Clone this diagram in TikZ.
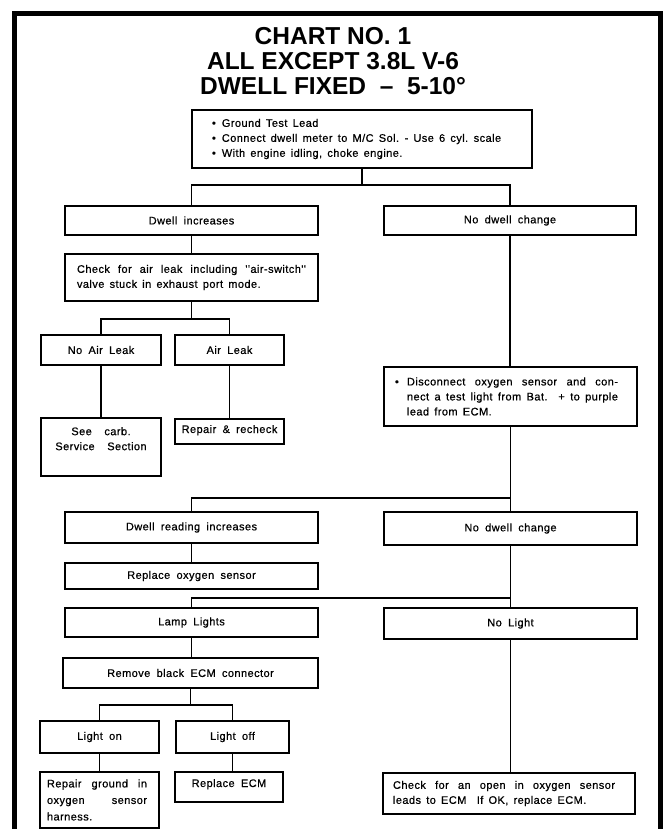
\documentclass[tikz,border=0pt]{standalone}
\usepackage{fontspec}
\newfontfamily\boxfont{Liberation Sans}[LetterSpace=4,WordSpace=1.8,FakeBold=0.6]
\newfontfamily\headfont{Liberation Sans}
% a line whose word spaces stretch to fill the given width
\newcommand\spreadto[2]{\leavevmode\hbox to #1{\spaceskip=3pt plus 1fil\relax #2}}
% a line set with the wide word spacing of the chart
\newcommand\wideline[1]{\leavevmode\hbox{\spaceskip=5.2pt\relax #1}}
% bullet followed by its gap
\newcommand\bul{\textbullet\hspace{6pt}}
\begin{document}
\begin{tikzpicture}[x=1pt,y=-1pt,
  box/.style={draw, line width=1.4pt, inner sep=0pt, outer sep=0pt, anchor=north west,
    font=\boxfont\fontsize{11}{15}\selectfont},
  sz/.style 2 args={minimum width=#1pt, minimum height=#2pt},
  wire/.style={line width=1.4pt},
  frame/.style={line width=5pt},
  heading/.style={font=\headfont\bfseries\fontsize{24.5}{26}\selectfont, anchor=base, inner sep=0pt},
  boxtext/.style={font=\boxfont\fontsize{11}{15}\selectfont, inner sep=0pt, align=center}]
\useasboundingbox (0,0) rectangle (666,829);

% outer frame, open at the bottom
\draw[frame] (14,829) -- (14,14) -- (660,14) -- (660,829);

% heading
\node[heading] (h1) at (333,45) {CHART NO. 1};
\node[heading] (h2) at (333,70) {ALL EXCEPT 3.8L V-6};
\node[heading] (h3) at (333,95) {DWELL FIXED \ – \ 5-10°};

% boxes
\node[box, sz={340}{58}, align=left, text width=300pt] (top) at (192,110)
  {\wideline{\bul Ground Test Lead}\\
   \wideline{\bul Connect dwell meter to M/C Sol. - Use 6 cyl. scale}\\
   \wideline{\bul With engine idling, choke engine.}};
\node[box, sz={253}{29}] (di) at (65,206) {Dwell increases};
\node[box, sz={252}{29}] (ndc) at (384,206) {No dwell change};
\node[box, sz={253}{47}, align=left, text width=229pt] (chk) at (65,254)
  {\spreadto{229pt}{Check for air leak including ''air-switch''}\\
   \wideline{valve stuck in exhaust port mode.}};
\node[box, sz={120}{30}] (nal) at (41,335) {No Air Leak};
\node[box, sz={109}{30}] (al) at (175,335) {Air Leak};
\node[box, sz={120}{58}] (sc) at (41,418) {};
\node[boxtext, anchor=north] (sctext) at ([yshift=-9pt]sc.north)
  {See\ \ carb.\\Service\ \ Section};
\node[box, sz={109}{25}, text height=14pt, text depth=11pt] (rr) at (175,419) {Repair \& recheck};
\node[box, sz={253}{59}, align=left, text width=231pt] (disc) at (384,367)
  {\makebox[12pt][l]{\textbullet}\spreadto{211pt}{Disconnect oxygen sensor and con-}\\
   \hspace*{12pt}\spreadto{211pt}{nect a test light from Bat.\ \ + to purple}\\
   \hspace*{12pt}\wideline{lead from ECM.}};
\node[box, sz={253}{31}] (dri) at (65,512) {Dwell reading increases};
\node[box, sz={253}{33}] (ndc2) at (384,512) {No dwell change};
\node[box, sz={253}{26}] (ros) at (65,563) {Replace oxygen sensor};
\node[box, sz={253}{29}] (ll) at (65,608) {Lamp Lights};
\node[box, sz={253}{31}] (nl) at (384,608) {No Light};
\node[box, sz={255}{30}] (rem) at (63,658) {Remove black ECM connector};
\node[box, sz={119}{32}] (lon) at (40,721) {Light on};
\node[box, sz={113}{32}] (loff) at (176,721) {Light off};
\node[box, sz={119}{56}, align=left, text width=105pt] (rg) at (40,772)
  {\spreadto{100pt}{Repair ground in}\\[1.5pt]
   \spreadto{100pt}{oxygen sensor}\\[1.5pt]
   harness.};
\node[box, sz={108}{30}, text height=15pt, text depth=15pt] (recm) at (175,772) {Replace ECM};
\node[box, sz={252}{41}, align=left, text width=232pt] (cko) at (383,773)
  {\spreadto{222pt}{Check for an open in oxygen sensor}\\
   \wideline{leads to ECM\ \ If OK, replace ECM.}};

% junction points of the forks
\coordinate (j1) at ([yshift=-17pt]top.south);
\coordinate (j2) at ([yshift=-18pt]chk.south);
\coordinate (j3) at ([yshift=14pt]ndc2.north);
\coordinate (j4) at ([yshift=10pt]nl.north);
\coordinate (j5) at ([yshift=-17pt]rem.south);

% connectors
\draw[wire] (top.south) -- (j1);
\draw[wire] (di.north) |- (j1) -| (ndc.north);
\draw[wire] (di.south) -- (di.south |- chk.north);
\draw[wire] (chk.south) -- (j2);
\draw[wire] (nal.north) |- (j2) -| (al.north);
\draw[wire] (nal.south) -- (nal.south |- sc.north);
\draw[wire] (al.south) -- (al.south |- rr.north);
\draw[wire] (ndc.south) -- (ndc.south |- disc.north);
\draw[wire] (disc.south) -- (disc.south |- ndc2.north);
\draw[wire] (dri.north) |- (j3);
\draw[wire] (dri.south) -- (dri.south |- ros.north);
\draw[wire] (ndc2.south) -- (ndc2.south |- nl.north);
\draw[wire] (ll.north) |- (j4);
\draw[wire] (ll.south) -- (ll.south |- rem.north);
\draw[wire] (rem.south) -- (j5);
\draw[wire] (lon.north) |- (j5) -| (loff.north);
\draw[wire] (lon.south) -- (lon.south |- rg.north);
\draw[wire] (loff.south) -- (loff.south |- recm.north);
\draw[wire] (nl.south) -- (nl.south |- cko.north);
\end{tikzpicture}
\end{document}
